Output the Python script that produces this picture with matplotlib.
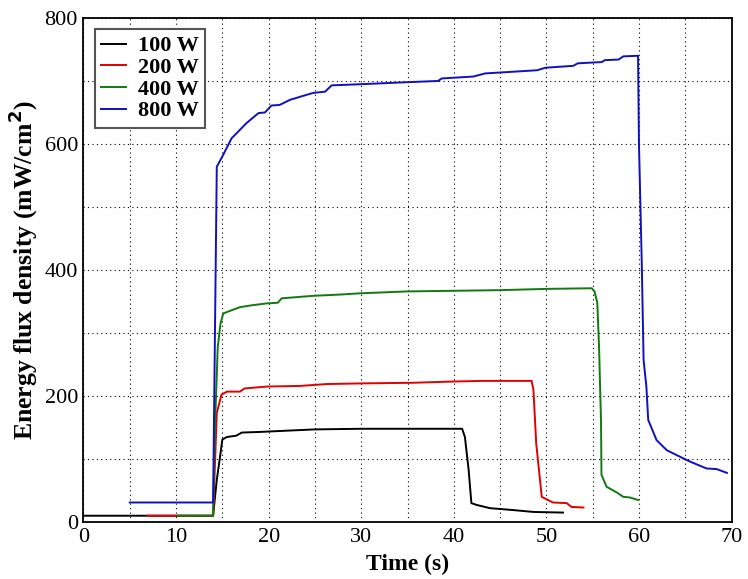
import matplotlib.pyplot as plt
from matplotlib.ticker import MultipleLocator

# Energy flux density vs time for four RF powers
t_100 = [0, 14.0, 14.4, 14.7, 15.0, 15.5, 16.5, 17.1, 19.1, 22, 25, 30, 35, 40.9,
         41.2, 41.6, 41.9, 42.5, 43.9, 46.4, 48.6, 51.8]
e_100 = [10, 10, 67, 98, 131, 135, 137, 142, 143, 145, 147, 148, 148, 148,
         135, 83, 30, 27, 22, 19, 16, 15]

t_200 = [6.9, 14.0, 14.4, 14.9, 15.5, 16.9, 17.4, 19.8, 23.4, 26.3, 29.9, 35.6, 39.9,
         43.2, 48.4, 48.6, 48.9, 49.5, 50.7, 52.2, 52.7, 54.0]
e_200 = [10, 10, 173, 202, 207, 207, 212, 215, 216, 219, 220, 221, 223,
         224, 224, 210, 125, 40, 31, 30, 24, 23]

t_400 = [10.2, 14.0, 14.2, 14.5, 14.8, 15.1, 15.8, 16.9, 18.2, 19.8, 21.0, 21.4, 24.8,
         27.7, 29.9, 35, 40, 45, 50, 54.9, 55.2, 55.5, 55.7, 55.8, 55.9, 55.95,
         56.5, 57.6, 58.3, 59.0, 59.9]
e_400 = [10, 10, 150, 277, 315, 331, 335, 341, 344, 347, 348, 355, 359,
         361, 363, 366, 367, 368, 370, 371, 366, 348, 273, 215, 162, 75,
         56, 47, 40, 39, 35]

t_800 = [5.0, 14.0, 14.4, 15.1, 16.0, 17.6, 18.9, 19.6, 20.3, 21.2, 22.3, 23.2, 24.1,
         24.8, 26.1, 26.8, 30.2, 34.9, 38.3, 38.7, 42.1, 43.4, 46.8, 49.0, 49.9,
         52.9, 53.4, 56.0, 56.3, 57.8, 58.3, 59.9, 60.0, 60.3, 60.5, 60.8, 61.0,
         61.9, 63.0, 64.8, 65.5, 67.3, 68.4, 69.5]
e_800 = [31, 31, 564, 583, 609, 633, 649, 650, 661, 662, 670, 674, 678,
         681, 683, 693, 695, 698, 700, 704, 707, 712, 715, 717, 721,
         724, 728, 730, 733, 734, 739, 740, 600, 413, 257, 215, 162,
         130, 114, 101, 96, 85, 84, 78]

plt.rcParams['font.family'] = ['Liberation Serif', 'DejaVu Serif']

fig = plt.figure(figsize=(7.48, 5.79), dpi=100)
ax = fig.add_axes([0.1116, 0.0984, 0.8664, 0.8706])

ax.plot(t_100, e_100, color='black', lw=1.4, label='100 W')
ax.plot(t_200, e_200, color='#e00000', lw=1.4, label='200 W')
ax.plot(t_400, e_400, color='#107a10', lw=1.4, label='400 W')
ax.plot(t_800, e_800, color='#1010c0', lw=1.4, label='800 W')

ax.set_xlim(0, 70)
ax.set_ylim(0, 800)
ax.xaxis.set_major_locator(MultipleLocator(10))
ax.xaxis.set_minor_locator(MultipleLocator(5))
ax.yaxis.set_major_locator(MultipleLocator(200))
ax.yaxis.set_minor_locator(MultipleLocator(100))
ax.grid(which='both', color='black', linestyle=(0, (1, 3)), lw=0.8)
ax.tick_params(which='both', direction='in', length=0, labelsize=16, pad=4)

ax.set_xlabel('Time (s)', fontsize=17, fontweight='bold', labelpad=5)
ax.set_ylabel('Energy flux density (mW/cm$^\\mathbf{2}$)', fontsize=18.5,
              fontweight='bold', labelpad=3)
for s in ax.spines.values():
    s.set_linewidth(1.3)

leg = ax.legend(loc='upper left', prop={'weight': 'bold', 'size': 16},
                fancybox=False, framealpha=1, edgecolor='#555555',
                handlelength=1.1, labelspacing=0.05, borderpad=0.3,
                handletextpad=0.55, borderaxespad=0.5)
leg.get_frame().set_linewidth(1.5)

plt.savefig('out.png', dpi=100)
